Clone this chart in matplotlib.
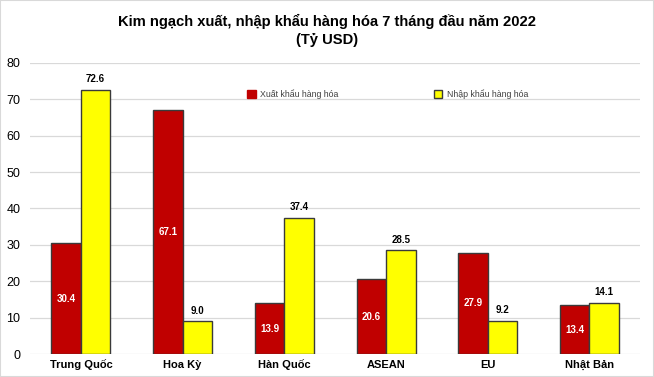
import matplotlib
matplotlib.use("Agg")
import matplotlib.pyplot as plt
import numpy as np
from matplotlib.patches import Patch

categories = ["Trung Quốc", "Hoa Kỳ", "Hàn Quốc", "ASEAN", "EU", "Nhật Bản"]
export_vals = [30.4, 67.1, 13.9, 20.6, 27.9, 13.4]
import_vals = [72.6, 9.0, 37.4, 28.5, 9.2, 14.1]
series_names = ["Xuất khẩu hàng hóa", "Nhập khẩu hàng hóa"]
title = "Kim ngạch xuất, nhập khẩu hàng hóa 7 tháng đầu năm 2022\n(Tỷ USD)"

plt.rcParams['font.family'] = ['Liberation Sans', 'DejaVu Sans']

fig = plt.figure(figsize=(6.54, 3.77), dpi=100)
ax = fig.add_axes([0.046, 0.061, 0.933, 0.772])

x = np.arange(len(categories))
w = 0.29
red = "#C00000"
yel = "#FFFF00"
edge = "#3a3a3a"
ax.bar(x - w/2, export_vals, w, color=red, edgecolor=edge, linewidth=1.0, zorder=3)
ax.bar(x + w/2, import_vals, w, color=yel, edgecolor=edge, linewidth=1.0, zorder=3)

for xi, v in zip(x, export_vals):
    ax.text(xi - w/2, v/2, f"{v:.1f}", ha='center', va='center', color='white',
            fontsize=7, fontweight='bold', zorder=4)
for xi, v in zip(x, import_vals):
    ax.text(xi + w/2, v + 1.5, f"{v:.1f}", ha='center', va='bottom', color='black',
            fontsize=7, fontweight='bold', zorder=4)

ax.set_xlim(-0.5, 5.5)
ax.set_ylim(0, 80)
ax.set_yticks(range(0, 81, 10))
ax.set_xticks(x)
ax.set_xticklabels(categories, fontsize=8, fontweight='bold')
ax.tick_params(axis='y', labelsize=9, length=0, pad=7)
ax.tick_params(axis='x', length=0, pad=4)
ax.grid(axis='y', color='#d9d9d9', linewidth=0.9, zorder=0)
for s in ax.spines.values():
    s.set_visible(False)

fig.suptitle(title, fontsize=10.6, fontweight='bold', y=0.962, linespacing=1.35)

handles = [Patch(facecolor=red, edgecolor=red), Patch(facecolor=yel, edgecolor=edge)]
positions = [0.356, 0.662]
legs = []
for h, name, px in zip(handles, series_names, positions):
    lg = ax.legend([h], [name], loc='center left', bbox_to_anchor=(px, 0.893),
                   frameon=False, handlelength=0.95, handleheight=1.2,
                   handletextpad=0.55, borderpad=0, borderaxespad=0,
                   prop={'size': 6.3})
    for t in lg.get_texts():
        t.set_color('#404040')
    legs.append(lg)
for lg in legs[:-1]:
    ax.add_artist(lg)

fig.patches.append(plt.Rectangle((0, 0), 1, 1, transform=fig.transFigure, fill=False,
                                 edgecolor='#d9d9d9', linewidth=1.5))

fig.savefig("out.png", dpi=100)
